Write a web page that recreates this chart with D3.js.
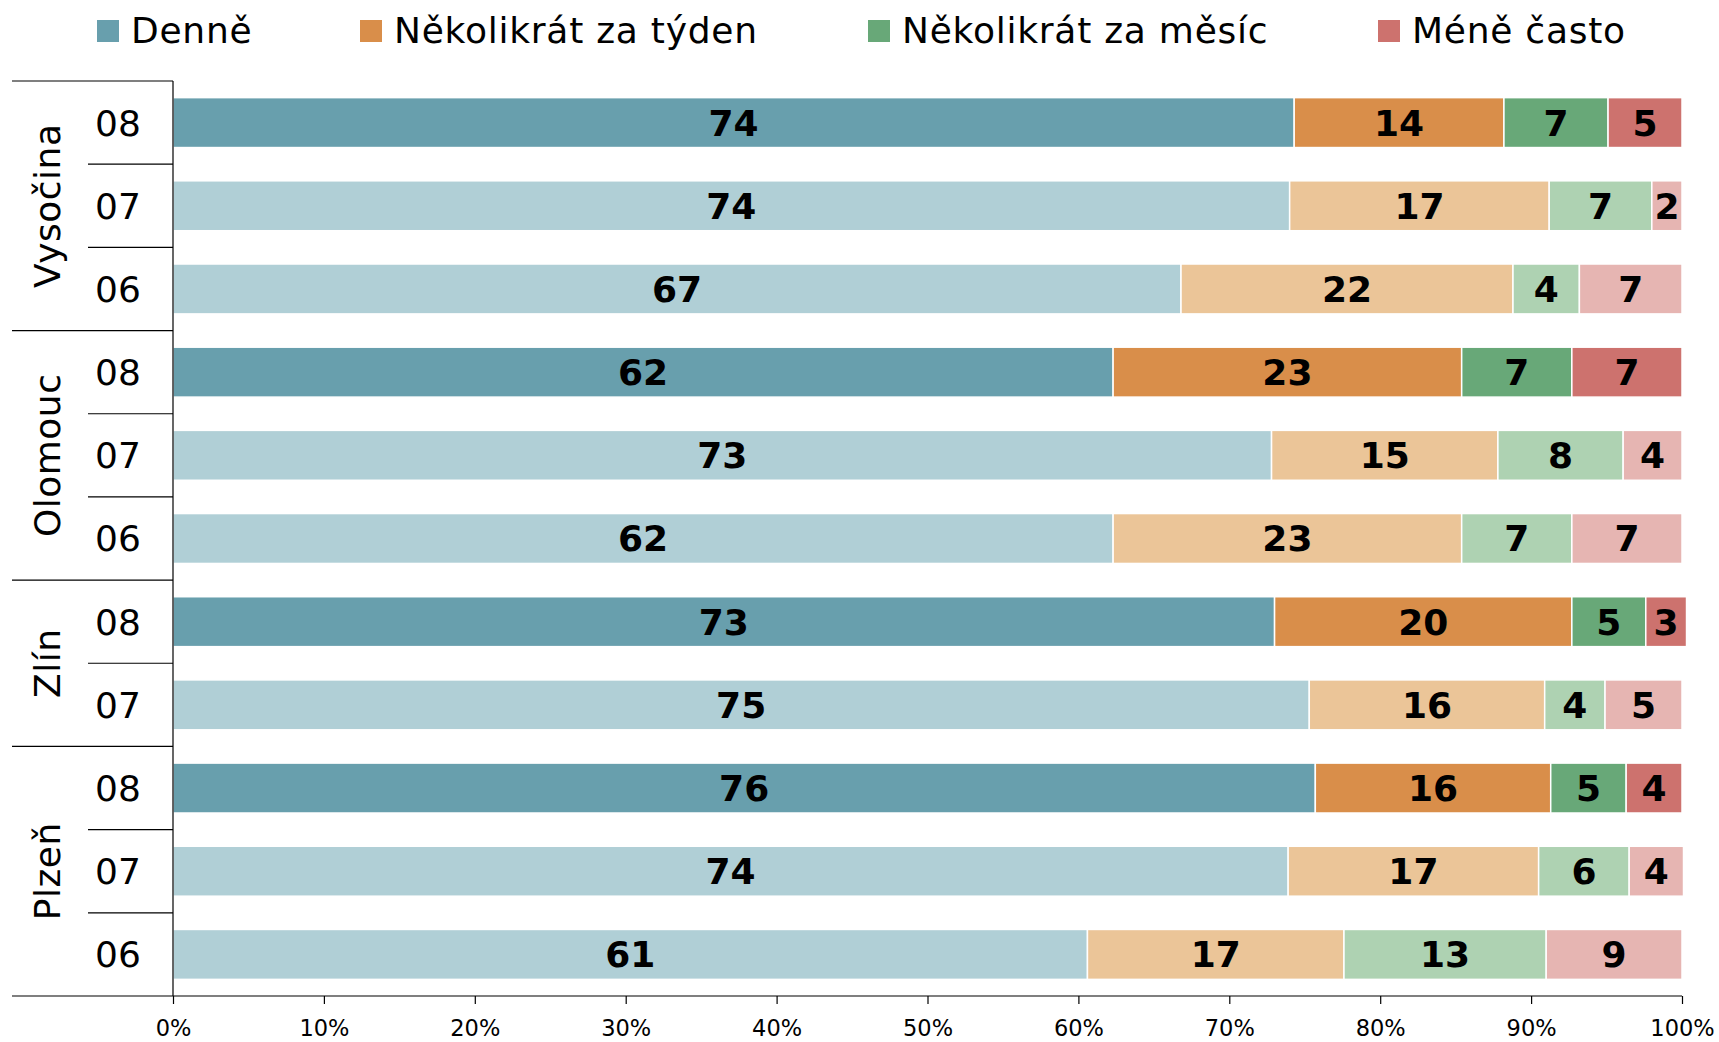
<!DOCTYPE html>
<html>
<head>
<meta charset="utf-8">
<script src="https://cdn.jsdelivr.net/npm/d3@7"></script>
<style>
  html, body { margin: 0; padding: 0; background: #fff; }
  svg { display: block; font-family: "DejaVu Sans", Verdana, sans-serif; }
</style>
</head>
<body>
<svg id="chart" width="1719" height="1042"></svg>
<script>
// ---- data ----
const seriesNames = ["Denně", "Několikrát za týden", "Několikrát za měsíc", "Méně často"];
const groups = ["Vysočina", "Olomouc", "Zlín", "Plzeň"];
const groupYears = [["08", "07", "06"], ["08", "07", "06"], ["08", "07"], ["08", "07", "06"]];
// values per row (top to bottom), in %
const denne   = [74.3, 74.0, 66.8, 62.3, 72.8, 62.3, 73.0, 75.3, 75.7, 73.9, 60.6];
const tyden   = [13.9, 17.2, 22.0, 23.1, 15.0, 23.1, 19.7, 15.6, 15.6, 16.6, 17.0];
const mesic   = [ 6.9,  6.8,  4.4,  7.3,  8.3,  7.3,  4.9,  4.0,  5.0,  6.0, 13.4];
const mene    = [ 4.9,  2.0,  6.8,  7.3,  3.9,  7.3,  2.7,  5.1,  3.7,  3.6,  9.0];
const xTicks = [0, 10, 20, 30, 40, 50, 60, 70, 80, 90, 100];

const darkColors  = ["#689FAD", "#D98E4A", "#68A878", "#CD726E"];
const lightColors = ["#B0CFD6", "#EBC598", "#AED2B2", "#E6B5B2"];

// ---- build rows ----
const rows = [];
groups.forEach((g, gi) => {
  groupYears[gi].forEach((yr, yi) => {
    rows.push({ group: g, year: yr, highlight: yr === "08", id: g + "-" + yr });
  });
});
const seriesVals = [denne, tyden, mesic, mene];
rows.forEach((r, i) => {
  let acc = 0;
  r.segs = seriesVals.map((arr, si) => {
    const s = { si, x0: acc, x1: acc + arr[i], v: arr[i] };
    acc += arr[i];
    return s;
  });
});

const svg = d3.select("#chart");
const pLeft = 173, pRight = 1682, pTop = 81, pBottom = 996;

const x = d3.scaleLinear().domain([0, 100]).range([pLeft, pRight]);
const y = d3.scaleBand().domain(rows.map(r => r.id)).range([pTop, pBottom])
  .paddingInner(0.4).paddingOuter(0.2);
const step = y.step();

// ---- bars ----
const rowG = svg.append("g").selectAll("g").data(rows).join("g")
  .attr("transform", d => `translate(0,${y(d.id)})`);

rowG.selectAll("rect").data(d => d.segs.map(s => ({ ...s, hl: d.highlight })))
  .join("rect")
  .attr("x", s => x(s.x0))
  .attr("y", 0)
  .attr("width", s => x(s.x1) - x(s.x0))
  .attr("height", y.bandwidth())
  .attr("fill", s => s.hl ? darkColors[s.si] : lightColors[s.si])
  .attr("stroke", "#fff")
  .attr("stroke-width", 1.5);

rowG.selectAll("text").data(d => d.segs)
  .join("text")
  .attr("x", s => (x(s.x0) + x(s.x1)) / 2)
  .attr("y", y.bandwidth() / 2)
  .attr("dy", "0.36em")
  .attr("text-anchor", "middle")
  .attr("font-weight", "bold")
  .attr("font-size", 36)
  .attr("fill", "#000")
  .text(s => Math.round(s.v));

// ---- left category structure ----
const lineG = svg.append("g").attr("stroke", "#000").attr("stroke-width", 1.2);
let rowIdx = 0;
const groupBounds = [];
groups.forEach((g, gi) => {
  const n = groupYears[gi].length;
  const y0 = pTop + rowIdx * step;
  const y1 = pTop + (rowIdx + n) * step;
  groupBounds.push({ g, y0, y1 });
  for (let k = 1; k < n; k++) {
    const yy = pTop + (rowIdx + k) * step;
    lineG.append("line").attr("x1", 88).attr("x2", pLeft).attr("y1", yy).attr("y2", yy);
  }
  rowIdx += n;
});
const bset = [pTop];
groupBounds.forEach(b => bset.push(b.y1));
bset.forEach((yy, i) => {
  if (i === bset.length - 1) return;
  lineG.append("line").attr("x1", 12).attr("x2", pLeft).attr("y1", yy).attr("y2", yy);
});

// year labels
svg.append("g").selectAll("text").data(rows).join("text")
  .attr("x", 118)
  .attr("y", d => y(d.id) + y.bandwidth() / 2)
  .attr("dy", "0.36em")
  .attr("text-anchor", "middle")
  .attr("font-size", 36)
  .attr("fill", "#000")
  .text(d => d.year);

// group labels (rotated)
svg.append("g").selectAll("text").data(groupBounds).join("text")
  .attr("transform", d => `translate(60,${(d.y0 + d.y1) / 2}) rotate(-90)`)
  .attr("text-anchor", "middle")
  .attr("font-size", 36)
  .attr("letter-spacing", 0.5)
  .attr("fill", "#000")
  .text(d => d.g);

// vertical axis line
svg.append("line").attr("x1", pLeft).attr("x2", pLeft).attr("y1", pTop).attr("y2", pBottom)
  .attr("stroke", "#000").attr("stroke-width", 1.2);

// ---- x axis ----
const xAxis = d3.axisBottom(x).tickValues(xTicks).tickSize(8).tickSizeOuter(0)
  .tickFormat(d => d + "%");
const ax = svg.append("g").attr("transform", `translate(0,${pBottom})`).call(xAxis);
ax.select(".domain").remove();
ax.selectAll(".tick line").attr("stroke", "#000").attr("stroke-width", 1.2);
ax.selectAll(".tick text").attr("font-size", 22.5).attr("font-family", "DejaVu Sans, Verdana, sans-serif")
  .attr("fill", "#000").attr("y", 40).attr("dy", 0);
svg.append("line").attr("x1", 12).attr("x2", pRight).attr("y1", pBottom).attr("y2", pBottom)
  .attr("stroke", "#000").attr("stroke-width", 1.2);

// ---- legend ----
const legendX = [97, 360, 868, 1378];
const lg = svg.append("g").selectAll("g").data(seriesNames).join("g")
  .attr("transform", (d, i) => `translate(${legendX[i]},20)`);
lg.append("rect").attr("width", 22).attr("height", 22)
  .attr("fill", (d, i) => darkColors[i]);
lg.append("text").attr("x", 34).attr("y", 23).attr("font-size", 36)
  .attr("letter-spacing", 0.75).attr("fill", "#000")
  .text(d => d);
</script>
</body>
</html>
